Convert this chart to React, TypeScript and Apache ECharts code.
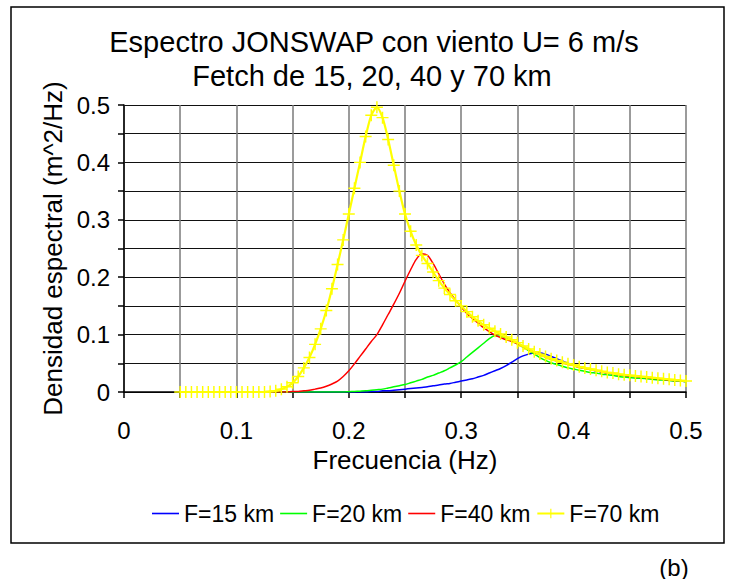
import React, { useEffect, useRef } from "react";
import * as echarts from "echarts";

// Frequency grid (Hz): 0.05 .. 0.5 every 0.005
const freqs: number[] = Array.from({ length: 91 }, (_, i) => +(0.05 + 0.005 * i).toFixed(3));

const seriesNames = ["F=15 km", "F=20 km", "F=40 km", "F=70 km"];
const seriesColors = ["#0000FF", "#00FF00", "#FF0000", "#FFFF00"];

const xTickLabels = ["0", "0.1", "0.2", "0.3", "0.4", "0.5"];
const yTickLabels = ["0", "0.1", "0.2", "0.3", "0.4", "0.5"];

// F = 15 km
const f15: number[] = [
  0, 0, 0, 0, 0, 0, 0, 0, 0, 0, 0, 0, 0, 0, 0, 0, 0, 0, 0, 0,
  0, 0, 0, 0, 0, 0, 0, 0, 0, 0, 0, 0, 0, 0,
  0.001, 0.001, 0.002, 0.002, 0.003, 0.004, 0.005, 0.006, 0.007, 0.008,
  0.009, 0.011, 0.012, 0.014, 0.015, 0.017, 0.019, 0.021, 0.023, 0.026,
  0.029, 0.033, 0.037, 0.041, 0.046, 0.052, 0.058, 0.063, 0.066, 0.068,
  0.068, 0.066, 0.062, 0.058, 0.054, 0.05, 0.046, 0.043, 0.041, 0.039,
  0.037, 0.035, 0.033, 0.032, 0.03, 0.029, 0.028, 0.027, 0.026, 0.025,
  0.024, 0.023, 0.022, 0.021, 0.02, 0.019, 0.018,
];

// F = 20 km
const f20: number[] = [
  0, 0, 0, 0, 0, 0, 0, 0, 0, 0, 0, 0, 0, 0, 0, 0, 0, 0, 0, 0,
  0, 0, 0, 0, 0, 0, 0, 0, 0, 0,
  0.0005, 0.001, 0.0015, 0.002, 0.003, 0.004, 0.005, 0.007, 0.009, 0.011,
  0.013, 0.016, 0.019, 0.022, 0.026, 0.029, 0.033, 0.037, 0.042, 0.047,
  0.053, 0.061, 0.069, 0.077, 0.085, 0.093, 0.098, 0.097, 0.094, 0.089,
  0.084, 0.078, 0.072, 0.066, 0.06, 0.055, 0.051, 0.048, 0.045, 0.042,
  0.04, 0.038, 0.036, 0.034, 0.033, 0.031, 0.03, 0.029, 0.027, 0.026,
  0.025, 0.024, 0.024, 0.023, 0.022, 0.021, 0.021, 0.02, 0.019, 0.019, 0.018,
];

// F = 40 km
const f40: number[] = [
  0, 0, 0, 0, 0, 0, 0, 0, 0, 0, 0, 0, 0, 0, 0, 0, 0, 0, 0, 0,
  0.001, 0.001, 0.002, 0.003, 0.005, 0.007, 0.01, 0.014, 0.019, 0.027,
  0.037, 0.049, 0.062, 0.075, 0.088, 0.1, 0.117, 0.135, 0.153, 0.172,
  0.193, 0.213, 0.231, 0.241, 0.238, 0.224, 0.206, 0.188, 0.173, 0.16,
  0.148, 0.137, 0.128, 0.12, 0.112, 0.105, 0.099, 0.095, 0.091, 0.088,
  0.084, 0.079, 0.074, 0.069, 0.065, 0.061, 0.057, 0.054, 0.051, 0.048,
  0.046, 0.043, 0.041, 0.039, 0.037, 0.035, 0.033, 0.032, 0.03, 0.029,
  0.028, 0.027, 0.026, 0.025, 0.024, 0.023, 0.022, 0.021, 0.02, 0.02, 0.019,
];

// F = 70 km
const f70: number[] = [
  0, 0, 0, 0, 0, 0, 0, 0, 0, 0, 0, 0, 0, 0, 0, 0,
  0.001, 0.002, 0.005, 0.009, 0.016, 0.027, 0.042, 0.06, 0.083, 0.11,
  0.142, 0.18, 0.222, 0.265, 0.31, 0.355, 0.4, 0.445, 0.482, 0.496,
  0.478, 0.44, 0.395, 0.35, 0.31, 0.28, 0.256, 0.238, 0.224, 0.209,
  0.194, 0.181, 0.17, 0.159, 0.15, 0.14, 0.131, 0.124, 0.117, 0.111,
  0.106, 0.101, 0.096, 0.091, 0.086, 0.08, 0.075, 0.07, 0.066, 0.062,
  0.058, 0.055, 0.052, 0.049, 0.047, 0.044, 0.042, 0.04, 0.038, 0.036,
  0.034, 0.033, 0.031, 0.03, 0.029, 0.028, 0.027, 0.026, 0.025, 0.024,
  0.023, 0.022, 0.021, 0.02, 0.019,
];

const seriesValues = [f15, f20, f40, f70];

const FONT = '"Liberation Sans", Arial, Helvetica, sans-serif';
const PLUS = "path://M0,4.4H4.4V0H5.6V4.4H10V5.6H5.6V10H4.4V5.6H0Z";
const LINE_ICON = "path://M0,0H27V1.6H0Z";

function tickFormatter(labels: string[]) {
  return (v: number) => {
    const k = Math.round(v * 10);
    if (Math.abs(v * 10 - k) > 1e-6) return "";
    return labels[k] ?? "";
  };
}

export default function App() {
  const ref = useRef<HTMLDivElement>(null);

  useEffect(() => {
    if (!ref.current) return;
    const chart = echarts.init(ref.current, undefined, { renderer: "svg" });

    const series = seriesValues.map((vals, si) => {
      const isMarked = si === 3;
      return {
        name: seriesNames[si],
        type: "line",
        data: freqs.map((f, i) => [f, vals[i]]),
        smooth: 0.3,
        symbol: isMarked ? PLUS : "none",
        symbolSize: 12,
        showSymbol: isMarked,
        showAllSymbol: true,
        itemStyle: { color: seriesColors[si] },
        lineStyle: { color: seriesColors[si], width: isMarked ? 2.2 : 1.5 },
        z: 2 + si,
      };
    });

    chart.setOption({
      animation: false,
      backgroundColor: "#ffffff",
      textStyle: { fontFamily: FONT },
      grid: { left: 124, right: 44, top: 105, bottom: 187, containLabel: false },
      graphic: [
        {
          type: "rect",
          shape: { x: 11, y: 7, width: 713, height: 536 },
          style: { fill: "none", stroke: "#000", lineWidth: 1.5 },
          z: -1,
        },
        {
          type: "text",
          x: 374,
          y: 42,
          style: {
            text: "Espectro JONSWAP con viento U= 6 m/s",
            font: `29px ${FONT}`,
            fill: "#000",
            textAlign: "center",
            textVerticalAlign: "middle",
          },
        },
        {
          type: "text",
          x: 372,
          y: 76,
          style: {
            text: "Fetch de 15, 20, 40 y 70 km",
            font: `29px ${FONT}`,
            fill: "#000",
            textAlign: "center",
            textVerticalAlign: "middle",
          },
        },
        {
          type: "text",
          x: 674,
          y: 567,
          style: {
            text: "(b)",
            font: `24px ${FONT}`,
            fill: "#000",
            textAlign: "center",
            textVerticalAlign: "middle",
          },
        },
      ],
      legend: {
        left: 147,
        top: 497,
        orient: "horizontal",
        itemWidth: 27,
        itemHeight: 12,
        itemGap: 6,
        symbolKeepAspect: true,
        textStyle: { fontSize: 23, color: "#000", fontFamily: FONT },
        data: seriesNames.map((n, i) => (i === 3 ? { name: n } : { name: n, icon: LINE_ICON })),
      },
      xAxis: {
        type: "value",
        min: 0,
        max: 0.5,
        interval: 0.05,
        name: "Frecuencia (Hz)",
        nameLocation: "middle",
        nameGap: 55,
        nameTextStyle: { fontSize: 26, color: "#000", fontFamily: FONT },
        axisLine: { show: true, onZero: false, lineStyle: { color: "#000", width: 1.5 } },
        axisTick: { show: true, length: 6, lineStyle: { color: "#000", width: 1.5 } },
        axisLabel: {
          formatter: tickFormatter(xTickLabels),
          fontSize: 24,
          color: "#000",
          margin: 26,
          fontFamily: FONT,
          showMaxLabel: true,
          showMinLabel: true,
        },
        splitLine: { show: true, lineStyle: { color: "#7a7a7a", width: 1.5 } },
      },
      yAxis: {
        type: "value",
        min: 0,
        max: 0.5,
        interval: 0.05,
        name: "Densidad espectral (m^2/Hz)",
        nameLocation: "middle",
        nameGap: 50,
        nameTextStyle: { fontSize: 26, color: "#000", fontFamily: FONT },
        axisLine: { show: true, onZero: false, lineStyle: { color: "#000", width: 1.5 } },
        axisTick: { show: true, length: 6, lineStyle: { color: "#000", width: 1.5 } },
        axisLabel: {
          formatter: tickFormatter(yTickLabels),
          fontSize: 24,
          color: "#000",
          margin: 14,
          fontFamily: FONT,
          showMaxLabel: true,
          showMinLabel: true,
        },
        splitLine: { show: true, lineStyle: { color: "#111", width: 1.2 } },
      },
      series,
    });

    return () => chart.dispose();
  }, []);

  return (
    <div
      ref={ref}
      style={{ position: "absolute", left: 0, top: 0, width: 730, height: 579 }}
    />
  );
}
